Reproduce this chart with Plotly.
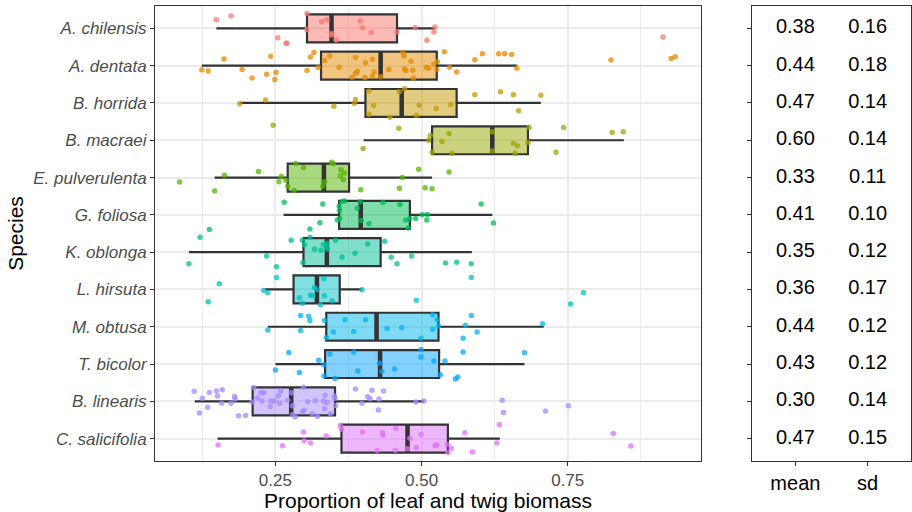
import plotly.graph_objects as go

species = ["A. chilensis", "A. dentata", "B. horrida", "B. macraei", "E. pulverulenta",
           "G. foliosa", "K. oblonga", "L. hirsuta", "M. obtusa", "T. bicolor",
           "B. linearis", "C. salicifolia"]
colors = ["#F8766D", "#E38900", "#C49A00", "#99A800", "#53B400", "#00BC56",
          "#00C094", "#00BFC4", "#00B6EB", "#06A4FF", "#A58AFF", "#DF70F8"]

# box statistics
lower_whisker = [0.149, 0.124, 0.189, 0.401, 0.146, 0.264, 0.102, 0.232, 0.237, 0.250, 0.112, 0.151]
q1 = [0.304, 0.328, 0.404, 0.518, 0.271, 0.359, 0.298, 0.281, 0.337, 0.335, 0.211, 0.363]
median = [0.346, 0.430, 0.466, 0.621, 0.333, 0.396, 0.338, 0.321, 0.423, 0.429, 0.277, 0.476]
q3 = [0.458, 0.526, 0.560, 0.682, 0.376, 0.480, 0.430, 0.360, 0.529, 0.530, 0.352, 0.545]
upper_whisker = [0.523, 0.663, 0.704, 0.846, 0.518, 0.621, 0.586, 0.398, 0.709, 0.676, 0.504, 0.634]

# summary table
mean_vals = [0.38, 0.44, 0.47, 0.60, 0.33, 0.41, 0.35, 0.36, 0.44, 0.43, 0.30, 0.47]
sd_vals = [0.16, 0.18, 0.14, 0.14, 0.11, 0.10, 0.12, 0.17, 0.12, 0.12, 0.14, 0.15]
table_cols = ["mean", "sd"]

# observations (value) and their vertical jitter (fraction of a row)
val_a_chilensis = [0.149, 0.174, 0.304, 0.329, 0.338, 0.395, 0.399, 0.304, 0.346, 0.346, 0.354, 0.414, 0.458, 0.489, 0.523, 0.521, 0.509, 0.254, 0.268, 0.270, 0.913]
jit_a_chilensis = [-0.23, -0.33, -0.40, -0.18, -0.23, -0.20, -0.02, 0.03, 0.14, 0.18, 0.31, 0.11, 0.09, -0.02, -0.04, 0.10, 0.32, 0.25, 0.40, 0.40, 0.23]

val_a_dentata = [0.124, 0.135, 0.162, 0.193, 0.210, 0.235, 0.242, 0.249, 0.251, 0.304, 0.310, 0.316, 0.323, 0.334, 0.343, 0.359, 0.381, 0.387, 0.387, 0.390, 0.403, 0.404, 0.416, 0.416, 0.419, 0.430, 0.444, 0.468, 0.470, 0.471, 0.473, 0.482, 0.485, 0.486, 0.508, 0.512, 0.521, 0.526, 0.527, 0.539, 0.548, 0.560, 0.591, 0.604, 0.632, 0.642, 0.654, 0.663, 0.824, 0.927, 0.934]
jit_a_dentata = [0.11, 0.14, -0.18, 0.10, 0.33, 0.23, -0.25, 0.37, 0.18, 0.13, -0.23, -0.35, 0.05, -0.14, -0.26, 0.04, 0.31, -0.22, 0.20, 0.15, 0.32, -0.08, -0.17, 0.28, 0.17, 0.30, 0.10, -0.35, -0.26, 0.09, 0.13, -0.12, 0.12, 0.34, 0.04, 0.07, -0.04, 0.10, -0.11, -0.37, 0.04, 0.17, -0.16, -0.32, -0.32, -0.32, -0.30, 0.07, -0.15, -0.19, -0.24]

val_b_horrida = [0.189, 0.233, 0.350, 0.385, 0.387, 0.410, 0.410, 0.418, 0.446, 0.462, 0.471, 0.491, 0.496, 0.525, 0.550, 0.591, 0.635, 0.657, 0.666, 0.704]
jit_b_horrida = [0.02, -0.08, 0.09, 0.01, -0.09, -0.32, 0.30, 0.07, 0.38, -0.30, -0.38, 0.33, 0.06, 0.15, 0.04, -0.22, -0.30, -0.22, 0.21, -0.21]

val_b_macraei = [0.246, 0.400, 0.461, 0.512, 0.515, 0.518, 0.535, 0.547, 0.552, 0.621, 0.621, 0.657, 0.664, 0.660, 0.682, 0.684, 0.730, 0.743, 0.826, 0.845]
jit_b_macraei = [-0.40, 0.22, -0.32, 0.00, -0.13, 0.32, 0.03, -0.18, 0.35, -0.23, 0.29, 0.08, 0.15, 0.35, 0.06, -0.34, 0.32, -0.34, -0.21, -0.23]

val_e_pulverulenta = [0.086, 0.146, 0.163, 0.221, 0.256, 0.260, 0.268, 0.271, 0.282, 0.285, 0.298, 0.331, 0.334, 0.346, 0.349, 0.361, 0.362, 0.366, 0.368, 0.396, 0.462, 0.467, 0.495, 0.506, 0.518, 0.547]
jit_e_pulverulenta = [0.12, 0.36, -0.06, -0.16, 0.11, -0.03, 0.07, 0.23, 0.35, -0.38, -0.27, 0.23, 0.11, -0.41, -0.37, -0.05, -0.21, 0.05, -0.12, 0.33, 0.29, 0.00, -0.22, 0.27, 0.30, -0.15]

val_g_foliosa = [0.137, 0.265, 0.309, 0.326, 0.331, 0.356, 0.359, 0.360, 0.360, 0.364, 0.368, 0.390, 0.395, 0.397, 0.410, 0.434, 0.463, 0.473, 0.477, 0.480, 0.490, 0.501, 0.510, 0.509, 0.602, 0.623]
jit_g_foliosa = [0.39, -0.34, 0.38, 0.21, -0.29, 0.14, -0.23, -0.12, 0.09, -0.36, -0.37, -0.18, -0.35, 0.15, 0.24, -0.33, -0.28, 0.14, 0.35, 0.10, 0.10, 0.00, -0.01, 0.14, -0.29, 0.22]

val_k_oblonga = [0.102, 0.121, 0.235, 0.252, 0.277, 0.296, 0.297, 0.300, 0.309, 0.317, 0.328, 0.332, 0.338, 0.338, 0.339, 0.353, 0.364, 0.386, 0.408, 0.437, 0.448, 0.458, 0.483, 0.541, 0.560, 0.585]
jit_k_oblonga = [0.31, -0.40, 0.10, 0.39, -0.32, -0.32, 0.28, -0.20, -0.40, -0.08, -0.05, -0.20, -0.14, -0.24, -0.08, -0.32, 0.13, 0.03, -0.22, -0.29, 0.14, 0.31, 0.10, 0.29, 0.27, 0.31]

val_l_hirsuta = [0.135, 0.154, 0.230, 0.237, 0.252, 0.291, 0.296, 0.310, 0.313, 0.317, 0.321, 0.327, 0.333, 0.334, 0.347, 0.398, 0.491, 0.585, 0.755, 0.777]
jit_l_hirsuta = [0.33, -0.15, 0.03, 0.09, -0.32, 0.22, 0.37, 0.15, 0.17, -0.05, 0.01, 0.41, -0.29, 0.17, 0.30, 0.01, 0.29, -0.32, 0.39, 0.09]

val_m_obtusa = [0.237, 0.293, 0.293, 0.307, 0.309, 0.334, 0.337, 0.349, 0.369, 0.384, 0.404, 0.441, 0.466, 0.499, 0.519, 0.519, 0.527, 0.529, 0.571, 0.575, 0.585, 0.595, 0.707]
jit_m_obtusa = [0.09, -0.30, 0.10, -0.28, -0.17, -0.17, 0.29, 0.14, -0.19, 0.13, -0.19, 0.05, 0.03, 0.31, -0.32, 0.07, -0.19, -0.02, 0.31, -0.04, -0.30, 0.14, -0.08]

val_t_bicolor = [0.250, 0.273, 0.291, 0.324, 0.333, 0.333, 0.343, 0.352, 0.384, 0.391, 0.428, 0.432, 0.454, 0.499, 0.499, 0.521, 0.532, 0.540, 0.558, 0.562, 0.571, 0.676]
jit_t_bicolor = [0.16, -0.31, 0.23, -0.10, 0.02, 0.32, -0.27, 0.39, -0.32, 0.19, -0.02, 0.20, 0.13, -0.39, -0.19, -0.08, 0.29, -0.08, 0.40, 0.35, -0.32, -0.30]

val_b_linearis = [0.111, 0.120, 0.125, 0.134, 0.137, 0.149, 0.151, 0.159, 0.158, 0.174, 0.180, 0.181, 0.187, 0.199, 0.210, 0.213, 0.219, 0.225, 0.230, 0.227, 0.241, 0.242, 0.248, 0.255, 0.257, 0.259, 0.271, 0.277, 0.279, 0.279, 0.284, 0.296, 0.298, 0.299, 0.305, 0.313, 0.318, 0.322, 0.332, 0.334, 0.335, 0.338, 0.344, 0.351, 0.352, 0.353, 0.387, 0.398, 0.408, 0.412, 0.415, 0.427, 0.426, 0.435, 0.490, 0.504, 0.638, 0.640, 0.712, 0.751]
jit_b_linearis = [-0.27, 0.31, -0.08, 0.16, -0.24, -0.28, -0.14, -0.31, 0.05, 0.05, -0.13, -0.06, 0.39, 0.38, 0.02, -0.37, -0.09, -0.23, -0.23, -0.01, 0.14, -0.01, -0.01, -0.14, 0.05, -0.28, -0.03, -0.23, 0.12, 0.36, 0.42, 0.28, -0.38, 0.24, 0.01, 0.34, -0.02, 0.41, -0.01, 0.20, -0.16, 0.03, 0.33, -0.14, -0.08, 0.11, -0.33, 0.05, -0.12, -0.07, -0.30, -0.06, 0.23, -0.28, 0.02, -0.01, -0.03, 0.30, 0.26, 0.12]

val_c_salicifolia = [0.152, 0.262, 0.298, 0.299, 0.310, 0.337, 0.361, 0.363, 0.399, 0.424, 0.433, 0.434, 0.455, 0.456, 0.476, 0.480, 0.491, 0.499, 0.523, 0.526, 0.544, 0.545, 0.551, 0.574, 0.587, 0.629, 0.633, 0.828, 0.858]
jit_c_salicifolia = [0.17, 0.19, -0.18, 0.06, 0.12, -0.07, -0.35, -0.25, -0.18, 0.32, -0.16, -0.09, 0.31, -0.27, 0.27, -0.01, 0.24, -0.11, 0.19, 0.17, 0.16, 0.37, 0.26, -0.16, 0.36, 0.12, -0.37, -0.14, 0.20]

values = [val_a_chilensis, val_a_dentata, val_b_horrida, val_b_macraei, val_e_pulverulenta,
          val_g_foliosa, val_k_oblonga, val_l_hirsuta, val_m_obtusa, val_t_bicolor,
          val_b_linearis, val_c_salicifolia]
jitters = [jit_a_chilensis, jit_a_dentata, jit_b_horrida, jit_b_macraei, jit_e_pulverulenta,
           jit_g_foliosa, jit_k_oblonga, jit_l_hirsuta, jit_m_obtusa, jit_t_bicolor,
           jit_b_linearis, jit_c_salicifolia]


def rgba(hexc, a):
    h = hexc.lstrip("#")
    r, g, b = int(h[0:2], 16), int(h[2:4], 16), int(h[4:6], 16)
    return f"rgba({r},{g},{b},{a})"


FONT = "Liberation Sans"
BOX_W = 0.75
fig = go.Figure()
positions = list(range(1, len(species) + 1))

for i, sp in enumerate(species):
    pos = positions[i]
    fig.add_trace(go.Box(
        y=[pos], q1=[q1[i]], median=[median[i]], q3=[q3[i]],
        lowerfence=[lower_whisker[i]], upperfence=[upper_whisker[i]],
        orientation="h", width=BOX_W, whiskerwidth=0, boxpoints=False,
        fillcolor=rgba(colors[i], 0.5),
        line=dict(color="#333333", width=2.2),
        xaxis="x", yaxis="y", showlegend=False, hoverinfo="skip",
    ))
    # thick median bar
    fig.add_trace(go.Scatter(
        x=[median[i], median[i]], y=[pos - BOX_W / 2, pos + BOX_W / 2],
        mode="lines", line=dict(color="#333333", width=4.5),
        xaxis="x", yaxis="y", showlegend=False, hoverinfo="skip",
    ))

for i, sp in enumerate(species):
    pos = positions[i]
    fig.add_trace(go.Scatter(
        x=values[i], y=[pos + j for j in jitters[i]],
        mode="markers",
        marker=dict(color=colors[i], size=5.5, opacity=0.75, line=dict(width=0)),
        xaxis="x", yaxis="y", showlegend=False, hoverinfo="skip",
    ))

# table panel
fig.add_trace(go.Scatter(
    x=[table_cols[0]] * len(species), y=positions,
    text=[f"{v:.2f}" for v in mean_vals], mode="text",
    textfont=dict(family=FONT, size=20, color="black"),
    xaxis="x2", yaxis="y2", showlegend=False, hoverinfo="skip",
))
fig.add_trace(go.Scatter(
    x=[table_cols[1]] * len(species), y=positions,
    text=[f"{v:.2f}" for v in sd_vals], mode="text",
    textfont=dict(family=FONT, size=20, color="black"),
    xaxis="x2", yaxis="y2", showlegend=False, hoverinfo="skip",
))

W, H = 912, 512
main_l, main_r = 155, 701
tab_l, tab_r = 752, 911
top, bottom = 6, 461
yrange = [len(species) + 0.6, 0.4]

fig.update_layout(
    width=W, height=H,
    margin=dict(l=0, r=0, t=0, b=0),
    paper_bgcolor="white", plot_bgcolor="white",
    font=dict(family=FONT, color="black"),
    xaxis=dict(
        domain=[main_l / W, main_r / W], range=[0.044, 0.978],
        tickmode="array", tickvals=[0.25, 0.50, 0.75], ticktext=["0.25", "0.50", "0.75"],
        ticks="outside", ticklen=4, tickcolor="#333333", tickwidth=1,
        tickfont=dict(family=FONT, size=17, color="#4D4D4D"),
        showgrid=True, gridcolor="#EBEBEB", gridwidth=2,
        minor=dict(tickmode="array", tickvals=[0.125, 0.375, 0.625, 0.875],
                   showgrid=True, gridcolor="#EBEBEB", gridwidth=1, ticks=""),
        zeroline=False, showline=True, mirror=True, linecolor="#333333", linewidth=1,
        title=dict(text="Proportion of leaf and twig biomass",
                   font=dict(family=FONT, size=21, color="black"), standoff=2),
        automargin=False, anchor="y",
    ),
    yaxis=dict(
        domain=[1 - bottom / H, 1 - top / H], range=yrange,
        tickmode="array", tickvals=positions, ticktext=species,
        ticks="outside", ticklen=4, tickcolor="#333333", tickwidth=1,
        tickfont=dict(family=FONT, size=17, color="#4D4D4D", style="italic"),
        showgrid=True, gridcolor="#EBEBEB", gridwidth=2,
        zeroline=False, showline=True, mirror=True, linecolor="#333333", linewidth=1,
        title=dict(text="Species", font=dict(family=FONT, size=21, color="black"), standoff=3),
        automargin=False, anchor="x",
    ),
    xaxis2=dict(
        domain=[tab_l / W, tab_r / W], range=[-0.6, 1.6],
        type="category", categoryorder="array", categoryarray=table_cols,
        ticks="outside", ticklen=4, tickcolor="#333333", tickwidth=1,
        tickfont=dict(family=FONT, size=20, color="black"),
        showgrid=False, zeroline=False, showline=True, mirror=True,
        linecolor="#333333", linewidth=1, automargin=False, anchor="y2",
    ),
    yaxis2=dict(
        domain=[1 - bottom / H, 1 - top / H], range=yrange,
        tickmode="array", tickvals=positions, showticklabels=False,
        ticks="outside", ticklen=4, tickcolor="#333333", tickwidth=1,
        showgrid=False, zeroline=False, showline=True, mirror=True,
        linecolor="#333333", linewidth=1, automargin=False, anchor="x2",
    ),
)

# remove the default 8px page margin so the figure sits at the window's corner
fig.write_html("out.html", config={"displayModeBar": False},
               post_script="document.body.style.margin='0';")
